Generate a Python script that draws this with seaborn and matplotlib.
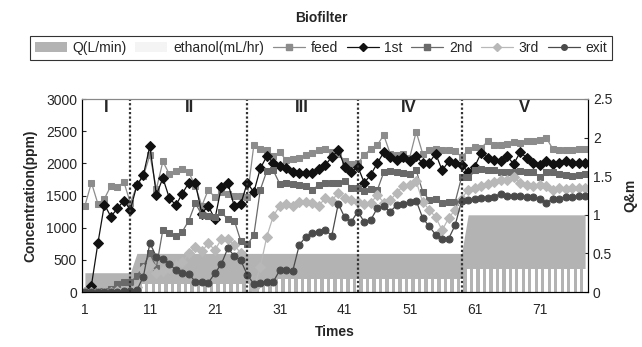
import matplotlib
matplotlib.use("Agg")
import matplotlib.pyplot as plt
import seaborn as sns
import numpy as np
from matplotlib.patches import Patch
from matplotlib.lines import Line2D

# ---- data (78 sampling times) ----
times = list(range(1, 79))

feed = [1340, 1700, 1370, 1450, 1650, 1630, 1710, 1380,
        1660, 1800, 2130, 1600, 2030, 1830, 1880, 1910, 1860, 1650, 1340, 1590,
        1470, 1560, 1520, 1500, 1500, 1480,
        2280, 2220, 2200, 2110, 2170, 2050, 2060, 2080, 2130, 2160, 2200, 2220,
        2170, 2150, 2040, 1990,
        2000, 2130, 2220, 2280, 2440, 2150, 2130, 2150, 2090, 2490, 2150, 2200,
        2230, 2210, 2200, 2190, 2100,
        2200, 2260, 2240, 2340, 2280, 2290, 2300, 2330, 2310, 2340, 2350, 2370,
        2400, 2230, 2210, 2200, 2210, 2220, 2230]

first = [0, 100, 760, 1360, 1170, 1300, 1420, 1280,
         1660, 1820, 2270, 1510, 1770, 1460, 1350, 1530, 1700, 1690, 1220, 1340,
         1130, 1630, 1700, 1330, 1370, 1700,
         1550, 1920, 2110, 2010, 1960, 1920, 1860, 1850, 1850, 1850, 1910, 1970,
         2100, 2200, 1950, 1860,
         1950, 1700, 1820, 2000, 2170, 2100, 2050, 2100, 2030, 2110, 2000, 2010,
         2150, 1890, 2030, 2000, 1970,
         1870, 1950, 2160, 2090, 2050, 2040, 2110, 1990, 2170, 2090, 2000, 1970,
         2040, 1990, 2000, 2030, 2000, 2010, 2010]

second = [0, 0, 10, 20, 40, 120, 150, 150,
          250, 400, 600, 380, 970, 910, 870, 940, 1110, 1380, 1200, 1180,
          1170, 1240, 1130, 1110, 790, 740,
          880, 1590, 1880, 1890, 1680, 1690, 1680, 1660, 1650, 1590, 1660, 1690,
          1700, 1690, 1730, 1620,
          1610, 1570, 1600, 1580, 1860, 1880, 1860, 1850, 1840, 1890, 1560, 1430,
          1450, 1390, 1400, 1400, 1790,
          1780, 1900, 1910, 1900, 1890, 1870, 1860, 1860, 1880, 1870, 1870, 1790,
          1860, 1860, 1830, 1820, 1800, 1820, 1840]

third = [0, 0, 0, 0, 0, 10, 20, 30,
         80, 350, 420, 300, 330, 380, 420, 460, 600, 700, 630, 760,
         650, 820, 830, 730, 600, 250,
         60, 390, 860, 1180, 1340, 1370, 1340, 1400, 1400, 1380, 1340, 1460,
         1420, 1540, 1460, 1430,
         1400, 1370, 1380, 1510, 1390, 1430, 1540, 1650, 1660, 1720, 1400, 1280,
         1160, 960, 1150, 1280, 1450,
         1590, 1610, 1640, 1680, 1710, 1740, 1740, 1790, 1700, 1660, 1650, 1670,
         1650, 1590, 1610, 1600, 1620, 1610, 1620]

exit_ = [0, 0, 0, 0, 0, 0, 10, 20,
         30, 240, 760, 550, 520, 435, 340, 290, 280, 160, 160, 145,
         290, 435, 680, 560, 490, 265,
         125, 145, 160, 160, 340, 340, 330, 730, 860, 910, 940, 970,
         870, 1370, 1160, 1090,
         1250, 1090, 1120, 1300, 1330, 1250, 1350, 1370, 1400, 1420, 1150, 1020,
         890, 830, 830, 1040, 1420,
         1430, 1440, 1460, 1460, 1480, 1530, 1490, 1500, 1490, 1480, 1470, 1450,
         1390, 1440, 1450, 1480, 1480, 1490, 1490]

q_flow = [0.25] * 8 + [0.5] * 51 + [1.0] * 19
ethanol = [0] * 8 + [0.1] * 22 + [0.17] * 29 + [0.3] * 19

period_lines = [8, 26, 43, 59]
period_names = ["I", "II", "III", "IV", "V"]
period_pos = [4.3, 17.1, 34.4, 50.8, 68.6]

sns.set_style("white")
plt.rcParams["font.family"] = ["Liberation Sans", "DejaVu Sans"]

fig = plt.figure(figsize=(6.42, 3.47), dpi=100)
ax = fig.add_axes([82 / 642, 1 - 292 / 347, 506 / 642, 193 / 347])
ax2 = ax.twinx()
ax.set_zorder(ax2.get_zorder() + 1)
ax.patch.set_visible(False)

# secondary axis: flow area + ethanol stripes
ax2.fill_between(times, q_flow, color="#b3b3b3", lw=0)
ax2.bar(times, ethanol, width=0.5, color="white", lw=0)
ax2.set_ylim(0, 2.5)
ax2.set_yticks([0, 0.5, 1, 1.5, 2, 2.5])
ax2.set_yticklabels(["0", "0.5", "1", "1.5", "2", "2.5"])
ax2.set_ylabel("Q&m", fontweight="bold", fontsize=10, labelpad=8)

styles = [
    ("feed", feed, "s", "#8c8c8c"),
    ("1st", first, "D", "#111111"),
    ("2nd", second, "s", "#6a6a6a"),
    ("3rd", third, "D", "#b8b8b8"),
    ("exit", exit_, "o", "#4a4a4a"),
]
for name, vals, mk, col in styles:
    sns.lineplot(x=times, y=vals, ax=ax, marker=mk, color=col, markersize=5,
                 markeredgecolor=col, linewidth=0.9, legend=False)

for b in period_lines:
    ax.axvline(b, color="#333333", ls=(0, (1, 1)), lw=1.6)
for name, xp in zip(period_names, period_pos):
    ax.text(xp, 2870, name, ha="center", va="center", fontweight="bold", fontsize=12)

ax.set_xlim(0.55, 78.45)
ax.set_ylim(0, 3000)
ax.set_yticks(range(0, 3001, 500))
ax.set_xticks(range(1, 79, 10))
ax.set_xticks(np.arange(1.5, 78, 1), minor=True)
ax.tick_params(axis="x", which="minor", direction="in", length=3, width=0.6)
ax.tick_params(axis="x", which="major", direction="in", length=0, labelsize=10, pad=8)
ax.tick_params(axis="y", direction="in", length=3, labelsize=10)
ax2.tick_params(axis="y", direction="in", length=3, labelsize=10)
ax.set_xlabel("Times", fontweight="bold", fontsize=10, labelpad=6)
ax.set_ylabel("Concentration(ppm)", fontweight="bold", fontsize=10, labelpad=6)
for a in (ax, ax2):
    for s in a.spines.values():
        s.set_color("black")
        s.set_linewidth(0.8)
ax2.spines["top"].set_color("#888888")
ax.spines["top"].set_color("#888888")

fig.text(0.5, 1 - 18 / 347, "Biofilter", ha="center", va="center",
         fontweight="bold", fontsize=10)

handles = [Patch(facecolor="#b3b3b3", edgecolor="none"),
           Patch(facecolor="#f4f4f4", edgecolor="none")]
for name, vals, mk, col in styles:
    handles.append(Line2D([0], [0], color=col, marker=mk, markersize=4,
                          markeredgecolor=col, lw=0.9))
labels = ["Q(L/min)", "ethanol(mL/hr)", "feed", "1st", "2nd", "3rd", "exit"]
leg = fig.legend(handles, labels, loc="center", bbox_to_anchor=(0.5, 1 - 48 / 347),
                 ncol=7, frameon=True, fancybox=False, edgecolor="black",
                 fontsize=10, handlelength=2.3, columnspacing=0.65,
                 handletextpad=0.4, borderpad=0.35)
leg.get_frame().set_linewidth(0.8)

fig.savefig("out.png", dpi=100)
